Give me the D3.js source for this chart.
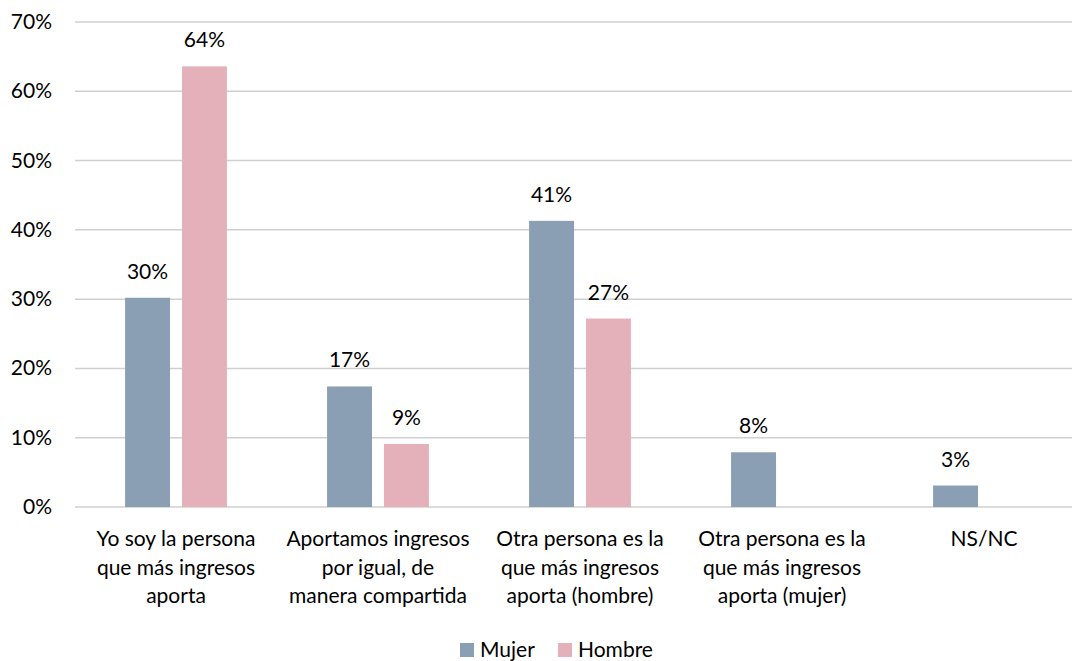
<!DOCTYPE html>
<html>
<head>
<meta charset="utf-8">
<script src="https://cdn.jsdelivr.net/npm/d3@7"></script>
<style>
  body { margin: 0; background: #fff; }
  svg { display: block; font-family: Lato, "Open Sans", sans-serif; }
</style>
</head>
<body>
<div id="chart"></div>
<script>
const categories = [
    ["Yo soy la persona", "que más ingresos", "aporta"],
    ["Aportamos ingresos", "por igual, de", "manera compartida"],
    ["Otra persona es la", "que más ingresos", "aporta (hombre)"],
    ["Otra persona es la", "que más ingresos", "aporta (mujer)"],
    ["NS/NC"]
]
const mujer = [30.2, 17.4, 41.3, 7.9, 3.1]
const hombre = [63.6, 9.1, 27.2, null, null]
const seriesNames = ["Mujer", "Hombre"]
const yTicks = [0, 10, 20, 30, 40, 50, 60, 70]

const width = 1072
const height = 661
const fontSize = 21
const colors = { Mujer: "#8a9fb4", Hombre: "#e4b0b9" }

const svg = d3.select("#chart").append("svg")
    .attr("width", width)
    .attr("height", height)

const x = d3.scaleBand()
    .domain(d3.range(categories.length))
    .range([75, 1085])

const x1 = d3.scaleBand()
    .domain(seriesNames)
    .range([0, x.bandwidth()])
    .paddingInner(0.21)
    .paddingOuter(0.88)

const y = d3.scaleLinear()
    .domain([0, 70])
    .range([507, 22])

// gridlines
svg.append("g")
    .selectAll("line")
    .data(yTicks)
    .join("line")
    .attr("x1", 75)
    .attr("x2", width)
    .attr("y1", d => y(d))
    .attr("y2", d => y(d))
    .attr("stroke", "#d0d0d0")
    .attr("stroke-width", 1.5)

// y labels
svg.append("g")
    .selectAll("text")
    .data(yTicks)
    .join("text")
    .attr("x", 52)
    .attr("y", d => y(d) + 7)
    .attr("text-anchor", "end")
    .attr("font-size", fontSize)
    .attr("fill", "#000")
    .text(d => d + "%")

const rows = []
categories.forEach((c, i) => {
    rows.push({ i, key: "Mujer", v: mujer[i] })
    rows.push({ i, key: "Hombre", v: hombre[i] })
})
const bars = rows.filter(d => d.v != null)

svg.append("g")
    .selectAll("rect")
    .data(bars)
    .join("rect")
    .attr("x", d => x(d.i) + x1(d.key))
    .attr("y", d => y(d.v))
    .attr("width", x1.bandwidth())
    .attr("height", d => y(0) - y(d.v))
    .attr("fill", d => colors[d.key])

// value labels
svg.append("g")
    .selectAll("text")
    .data(bars)
    .join("text")
    .attr("x", d => x(d.i) + x1(d.key) + x1.bandwidth() / 2)
    .attr("y", d => y(d.v) - 19)
    .attr("text-anchor", "middle")
    .attr("font-size", fontSize)
    .attr("fill", "#000")
    .text(d => Math.round(d.v) + "%")

// category labels
const catG = svg.append("g")
    .selectAll("text")
    .data(categories)
    .join("text")
    .attr("text-anchor", "middle")
    .attr("font-size", fontSize)
    .attr("fill", "#000")

catG.selectAll("tspan")
    .data((d, i) => d.map(line => ({ line, i })))
    .join("tspan")
    .attr("x", d => x(d.i) + x.bandwidth() / 2)
    .attr("y", (d, j) => 546 + j * 28.5)
    .text(d => d.line)

// legend
const legend = svg.append("g")
const legendItems = [
    { key: "Mujer", x: 460 },
    { key: "Hombre", x: 558 }
]
legend.selectAll("rect")
    .data(legendItems)
    .join("rect")
    .attr("x", d => d.x)
    .attr("y", 643)
    .attr("width", 14)
    .attr("height", 14)
    .attr("fill", d => colors[d.key])

legend.selectAll("text")
    .data(legendItems)
    .join("text")
    .attr("x", d => d.x + 20)
    .attr("y", 657)
    .attr("font-size", fontSize)
    .attr("fill", "#000")
    .text(d => d.key)
</script>
</body>
</html>
